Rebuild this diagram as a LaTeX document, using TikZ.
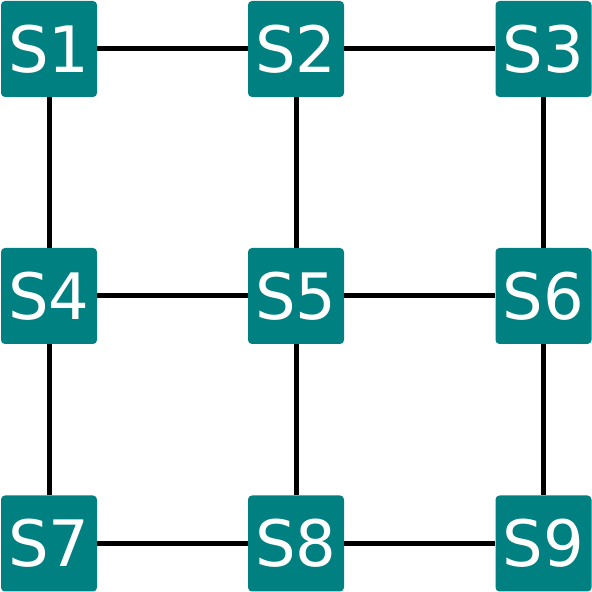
\documentclass[tikz,border=0pt]{standalone}
\usepackage{fontspec}
\setmainfont{DejaVu Sans}
\definecolor{teal-box}{RGB}{0,128,128}
\usetikzlibrary{positioning}

\begin{document}
\begin{tikzpicture}
[
  x=1pt, y=1pt,
  station/.style={rectangle,rounded corners=4pt,fill=teal-box,text=white,
    minimum size=96pt,inner sep=0pt,font=\fontsize{64}{64}\selectfont},
  link/.style={draw=black,line width=5pt},
]
\useasboundingbox (0,0) rectangle (592,592);
\node[station] (S1) at (49,543) {S1};
\node[station] (S2) at (296,543) {S2};
\node[station] (S3) at (543.5,543) {S3};
\node[station] (S4) at (49,296) {S4};
\node[station] (S5) at (296,296) {S5};
\node[station] (S6) at (543.5,296) {S6};
\node[station] (S7) at (49,48.5) {S7};
\node[station] (S8) at (296,48.5) {S8};
\node[station] (S9) at (543.5,48.5) {S9};

\draw[link] (S1) -- (S2);
\draw[link] (S2) -- (S3);
\draw[link] (S4) -- (S5);
\draw[link] (S5) -- (S6);
\draw[link] (S7) -- (S8);
\draw[link] (S8) -- (S9);
\draw[link] (S1) -- (S4);
\draw[link] (S4) -- (S7);
\draw[link] (S2) -- (S5);
\draw[link] (S5) -- (S8);
\draw[link] (S3) -- (S6);
\draw[link] (S6) -- (S9);
\end{tikzpicture}
\end{document}
